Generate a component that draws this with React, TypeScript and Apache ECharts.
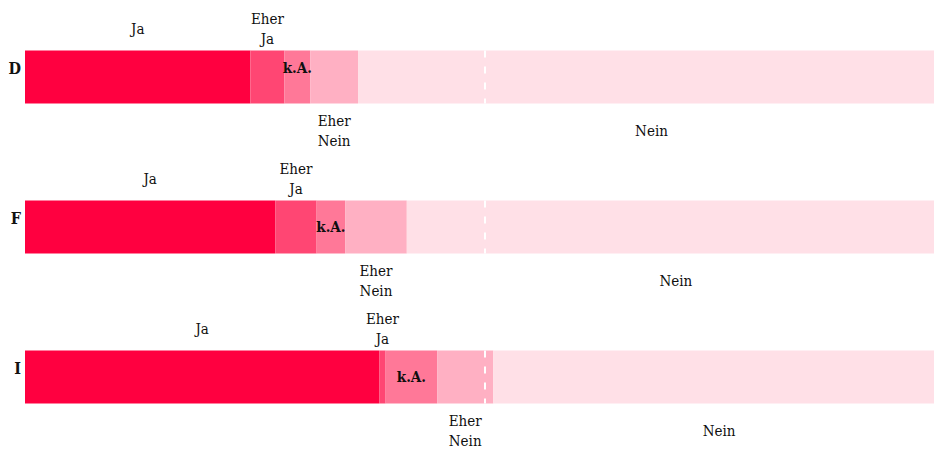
import React, { useEffect, useRef } from "react";
import * as echarts from "echarts";

const categories = ["D", "F", "I"];
const seriesNames = ["Ja", "Eher Ja", "k.A.", "Eher Nein", "Nein"];
const jaValues = [24.5, 27.2, 38.5];
const eherJaValues = [3.7, 4.5, 0.7];
const kaValues = [2.8, 3.1, 5.6];
const eherNeinValues = [5.2, 6.7, 6.1];
const neinValues = [63.8, 58.5, 49.1];
const midValue = 50;

const colors = ["#ff0040", "#ff4673", "#ff7898", "#ffb0c3", "#ffe0e7"];
const FONT = "'DejaVu Serif Condensed', 'DejaVu Serif', serif";
const TEXT = "#0f0f0f";
const BAR_W = 53;

export default function App() {
  const ref = useRef<HTMLDivElement>(null);
  useEffect(() => {
    if (!ref.current) return;
    const chart = echarts.init(ref.current, undefined, { renderer: "svg" });
    const baseLabel = {
      show: true,
      position: "inside",
      color: TEXT,
      fontFamily: FONT,
      fontSize: 15,
      lineHeight: 20,
    };
    const dataSets = [jaValues, eherJaValues, kaValues, eherNeinValues, neinValues];
    const labelTexts = ["Ja", "Eher\nJa", "k.A.", "Eher\nNein", "Nein"];
    const offsets: number[] = [-48.5, -48.5, 0, 53.5, 53.5];
    const series: any[] = dataSets.map((vals, i) => ({
      name: seriesNames[i],
      type: "bar",
      stack: "total",
      barWidth: BAR_W,
      itemStyle: { color: colors[i] },
      label: {
        ...baseLabel,
        formatter: labelTexts[i],
        offset: [0, offsets[i]],
        fontWeight: i === 2 ? "bold" : "normal",
      },
      data: vals.map((v, j) =>
        i === 2 && j === 0
          ? { value: v, label: { offset: [0, -9.5] } }
          : v
      ),
    }));
    series.push({
      type: "custom",
      z: 10,
      silent: true,
      data: categories.map((_, j) => [midValue, j]),
      renderItem: (params: any, api: any) => {
        const p = api.coord([api.value(0), api.value(1)]);
        return {
          type: "line",
          shape: { x1: p[0], y1: p[1] - BAR_W / 2, x2: p[0], y2: p[1] + BAR_W / 2 },
          style: { stroke: "#ffffff", lineWidth: 2, lineDash: [7, 9] },
        };
      },
    });
    chart.setOption({
      animation: false,
      grid: { left: 25, top: 2, width: 920, height: 450 },
      xAxis: { type: "value", min: 0, max: 100, show: false },
      yAxis: {
        type: "category",
        data: categories,
        inverse: true,
        axisLine: { show: false },
        axisTick: { show: false },
        axisLabel: {
          margin: 4,
          color: "#111",
          fontFamily: FONT,
          fontWeight: "bold",
          fontSize: 16,
          verticalAlign: "bottom",
          lineHeight: 18,
        },
      },
      series,
    });
    return () => chart.dispose();
  }, []);
  return (
    <div style={{ position: "fixed", left: 0, top: 0, width: 934, height: 450, overflow: "hidden", background: "#fff" }}>
      <div ref={ref} style={{ width: 960, height: 460 }} />
    </div>
  );
}
